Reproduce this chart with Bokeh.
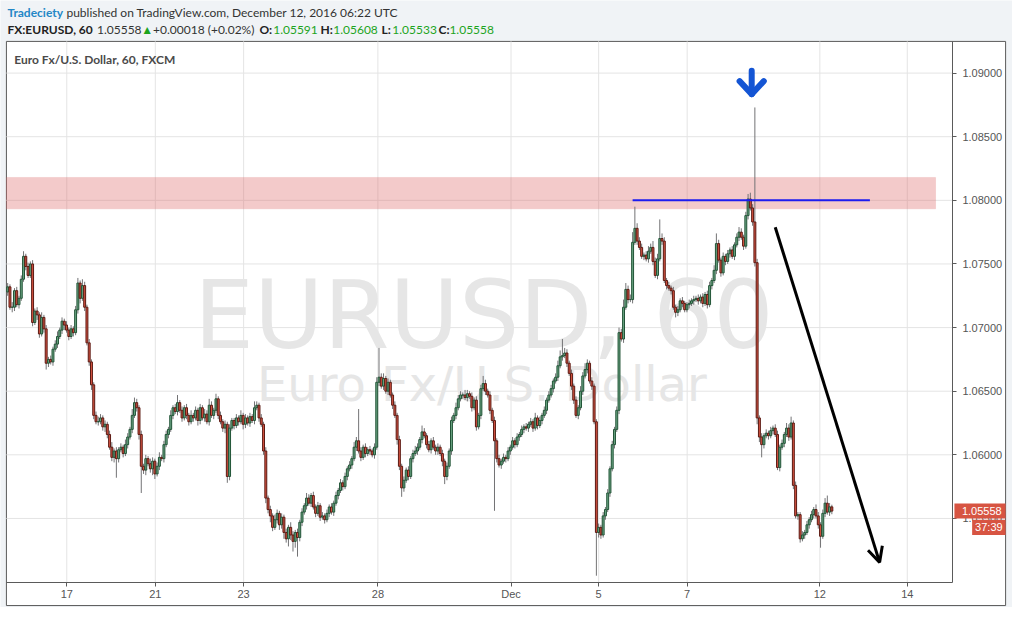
import numpy as np
from bokeh.plotting import figure
from bokeh.models import Range1d, FixedTicker, PrintfTickFormatter, Label, Arrow, OpenHead, LinearAxis
from bokeh.core.properties import value
from bokeh.embed import file_html
from bokeh.resources import INLINE

# ---------------- data (EURUSD, 60 min candles) ----------------
first_open = 1.0728
close = [
    1.0732, 1.0716, 1.0716, 1.0729, 1.0718, 1.0723, 1.0738, 1.0756, 1.0748, 1.0741,
    1.0750, 1.0704, 1.0713, 1.0710, 1.0695, 1.0708, 1.0699, 1.0672, 1.0675, 1.0673,
    1.0683, 1.0687, 1.0693, 1.0698, 1.0705, 1.0702, 1.0698, 1.0693, 1.0699, 1.0696,
    1.0714, 1.0735, 1.0723, 1.0733, 1.0716, 1.0688, 1.0673, 1.0655, 1.0631, 1.0626,
    1.0626, 1.0629, 1.0622, 1.0624, 1.0616, 1.0606, 1.0598, 1.0603, 1.0597, 1.0604,
    1.0606, 1.0601, 1.0608, 1.0614, 1.0620, 1.0631, 1.0641, 1.0637, 1.0616, 1.0591,
    1.0588, 1.0597, 1.0593, 1.0589, 1.0595, 1.0585, 1.0591, 1.0598, 1.0597, 1.0608,
    1.0616, 1.0620, 1.0631, 1.0637, 1.0634, 1.0641, 1.0635, 1.0629, 1.0637, 1.0631,
    1.0626, 1.0631, 1.0629, 1.0635, 1.0627, 1.0637, 1.0629, 1.0632, 1.0626, 1.0639,
    1.0631, 1.0635, 1.0644, 1.0631, 1.0626, 1.0621, 1.0624, 1.0583, 1.0621, 1.0627,
    1.0623, 1.0629, 1.0626, 1.0631, 1.0624, 1.0629, 1.0625, 1.0630, 1.0627, 1.0637,
    1.0639, 1.0629, 1.0624, 1.0603, 1.0566, 1.0557, 1.0552, 1.0543, 1.0549, 1.0554,
    1.0545, 1.0551, 1.0539, 1.0534, 1.0543, 1.0537, 1.0532, 1.0539, 1.0535, 1.0547,
    1.0555, 1.0560, 1.0566, 1.0562, 1.0568, 1.0559, 1.0554, 1.0560, 1.0551, 1.0552,
    1.0549, 1.0554, 1.0559, 1.0555, 1.0562, 1.0568, 1.0572, 1.0578, 1.0575, 1.0583,
    1.0589, 1.0592, 1.0597, 1.0606, 1.0611, 1.0603, 1.0598, 1.0606, 1.0601, 1.0604,
    1.0603, 1.0600, 1.0606, 1.0657, 1.0661, 1.0654, 1.0660, 1.0650, 1.0657, 1.0647,
    1.0639, 1.0631, 1.0612, 1.0591, 1.0574, 1.0580, 1.0588, 1.0583, 1.0597, 1.0601,
    1.0603, 1.0606, 1.0612, 1.0618, 1.0615, 1.0608, 1.0604, 1.0611, 1.0606, 1.0603,
    1.0606, 1.0601, 1.0595, 1.0583, 1.0591, 1.0603, 1.0627, 1.0631, 1.0637, 1.0644,
    1.0647, 1.0647, 1.0645, 1.0648, 1.0646, 1.0637, 1.0643, 1.0622, 1.0631, 1.0652,
    1.0656, 1.0650, 1.0647, 1.0635, 1.0627, 1.0611, 1.0597, 1.0592, 1.0595, 1.0598,
    1.0597, 1.0603, 1.0606, 1.0611, 1.0608, 1.0614, 1.0616, 1.0620, 1.0622, 1.0621,
    1.0624, 1.0626, 1.0621, 1.0629, 1.0623, 1.0627, 1.0631, 1.0635, 1.0643, 1.0647,
    1.0652, 1.0658, 1.0661, 1.0670, 1.0677, 1.0678, 1.0680, 1.0672, 1.0664, 1.0654,
    1.0643, 1.0631, 1.0637, 1.0650, 1.0662, 1.0667, 1.0672, 1.0658, 1.0654, 1.0626,
    1.0539, 1.0543, 1.0537, 1.0552, 1.0557, 1.0570, 1.0589, 1.0608, 1.0620, 1.0635,
    1.0696, 1.0691, 1.0716, 1.0730, 1.0722, 1.0722, 1.0767, 1.0778, 1.0768, 1.0763,
    1.0756, 1.0757, 1.0754, 1.0760, 1.0763, 1.0752, 1.0741, 1.0754, 1.0770, 1.0768,
    1.0737, 1.0733, 1.0731, 1.0729, 1.0716, 1.0712, 1.0714, 1.0721, 1.0719, 1.0714,
    1.0718, 1.0719, 1.0721, 1.0722, 1.0723, 1.0721, 1.0724, 1.0719, 1.0726, 1.0718,
    1.0733, 1.0737, 1.0745, 1.0766, 1.0753, 1.0743, 1.0756, 1.0752, 1.0758, 1.0761,
    1.0756, 1.0765, 1.0771, 1.0775, 1.0771, 1.0764, 1.0788, 1.0801, 1.0794, 1.0783,
    1.0751, 1.0629, 1.0614, 1.0608, 1.0615, 1.0617, 1.0615, 1.0619, 1.0621, 1.0616,
    1.0590, 1.0606, 1.0609, 1.0616, 1.0621, 1.0614, 1.0625, 1.0576, 1.0552, 1.0553,
    1.0534, 1.0537, 1.0539, 1.0545, 1.0549, 1.0553, 1.0557, 1.0552, 1.0545, 1.0536,
    1.0554, 1.0562, 1.0555, 1.05591, 1.05558,
]
# wick lengths beyond the body, in pips
upper_wick_pips = [
    3, 2, 4, 2, 3, 2, 3, 4, 2, 3,
    2, 3, 2, 3, 2, 4, 2, 3, 2, 3,
    2, 3, 4, 2, 3, 2, 3, 2, 3, 2,
    3, 4, 2, 5, 3, 2, 3, 2, 2, 3,
    4, 3, 2, 3, 2, 3, 4, 2, 3, 2,
    3, 2, 4, 3, 2, 5, 4, 3, 2, 3,
    2, 3, 2, 4, 3, 2, 3, 4, 2, 3,
    3, 2, 4, 2, 3, 6, 2, 3, 2, 3,
    2, 4, 2, 3, 2, 3, 2, 4, 3, 5,
    3, 2, 4, 2, 3, 2, 3, 2, 3, 2,
    2, 3, 2, 4, 2, 3, 2, 3, 2, 5,
    3, 2, 3, 2, 3, 2, 3, 2, 4, 3,
    2, 3, 2, 3, 2, 4, 3, 2, 3, 2,
    3, 2, 4, 3, 2, 3, 2, 3, 2, 3,
    2, 3, 2, 3, 2, 3, 2, 3, 2, 3,
    2, 3, 2, 4, 3, 25, 3, 2, 3, 2,
    3, 2, 3, 4, 23, 3, 4, 2, 3, 2,
    2, 3, 2, 3, 2, 3, 2, 3, 2, 3,
    4, 3, 2, 5, 3, 2, 3, 2, 3, 2,
    3, 2, 3, 2, 3, 2, 3, 2, 4, 3,
    3, 2, 4, 3, 2, 3, 2, 3, 2, 3,
    6, 3, 2, 3, 2, 3, 2, 3, 2, 3,
    2, 3, 2, 3, 2, 3, 2, 3, 2, 3,
    2, 3, 2, 4, 2, 3, 2, 3, 2, 3,
    3, 2, 3, 4, 5, 13, 4, 3, 2, 3,
    2, 3, 2, 4, 3, 5, 3, 2, 3, 2,
    2, 3, 2, 3, 2, 3, 2, 3, 2, 3,
    4, 3, 6, 5, 3, 4, 8, 17, 4, 3,
    3, 2, 3, 4, 3, 5, 3, 4, 15, 4,
    3, 2, 3, 2, 3, 2, 3, 2, 3, 2,
    2, 3, 2, 3, 2, 3, 2, 3, 2, 3,
    3, 2, 4, 8, 3, 2, 3, 2, 3, 2,
    3, 2, 3, 4, 3, 2, 3, 4, 5, 3,
    90, 3, 2, 3, 2, 3, 2, 3, 2, 3,
    3, 2, 3, 2, 4, 3, 5, 2, 3, 2,
    2, 3, 2, 3, 2, 3, 2, 4, 3, 2, 3, 4, 6, 3, 1.7,
]
lower_wick_pips = [
    3, 2, 4, 3, 2, 3, 2, 2, 3, 2,
    2, 3, 2, 4, 3, 2, 3, 5, 3, 2,
    3, 2, 3, 2, 3, 4, 2, 3, 2, 3,
    2, 3, 4, 2, 3, 2, 3, 4, 3, 2,
    3, 2, 3, 4, 3, 2, 3, 4, 15, 3,
    2, 3, 2, 3, 2, 3, 2, 3, 4, 21,
    3, 4, 2, 3, 5, 4, 2, 3, 2, 3,
    2, 3, 2, 3, 2, 3, 2, 3, 2, 3,
    3, 2, 3, 2, 4, 3, 2, 3, 2, 3,
    2, 3, 2, 3, 2, 3, 4, 5, 3, 2,
    3, 2, 3, 2, 4, 3, 2, 3, 2, 3,
    2, 3, 2, 3, 4, 3, 5, 3, 2, 3,
    4, 3, 5, 3, 6, 4, 8, 5, 15, 3,
    3, 2, 3, 2, 3, 2, 3, 2, 3, 2,
    3, 2, 3, 2, 3, 2, 3, 2, 3, 2,
    3, 2, 3, 2, 3, 2, 3, 2, 3, 2,
    3, 2, 3, 2, 3, 2, 3, 2, 3, 2,
    3, 2, 4, 3, 7, 3, 2, 3, 2, 3,
    2, 3, 2, 3, 2, 3, 2, 3, 2, 3,
    3, 2, 4, 6, 3, 2, 3, 2, 3, 2,
    2, 3, 2, 3, 2, 3, 2, 3, 2, 3,
    2, 3, 2, 3, 2, 55, 3, 2, 3, 2,
    3, 2, 3, 2, 3, 2, 3, 2, 3, 2,
    3, 2, 3, 2, 3, 2, 3, 2, 3, 2,
    2, 3, 2, 3, 2, 3, 2, 3, 2, 3,
    3, 2, 3, 2, 3, 2, 3, 2, 3, 2,
    34, 4, 3, 2, 3, 2, 3, 2, 3, 2,
    3, 2, 3, 2, 3, 2, 3, 2, 3, 2,
    2, 3, 2, 3, 2, 3, 2, 3, 2, 3,
    2, 3, 2, 3, 2, 4, 3, 2, 3, 2,
    2, 3, 2, 3, 2, 3, 2, 3, 2, 3,
    2, 3, 2, 3, 2, 3, 2, 3, 2, 3,
    2, 3, 2, 3, 2, 3, 2, 3, 2, 3,
    3, 5, 4, 10, 3, 2, 3, 2, 3, 2,
    2, 3, 2, 3, 2, 3, 2, 3, 2, 3,
    3, 2, 3, 2, 3, 2, 3, 2, 3, 9, 2, 3, 2, 3, 2.5,
]
# x axis: date labels at candle positions
date_tick_index = [26.1, 65.2, 104.2, 163.5, 222.3, 261.0, 300.1, 358.7, 397.3]
date_tick_labels = ["17", "21", "23", "28", "Dec", "5", "7", "12", "14"]
price_ticks = [1.055, 1.060, 1.065, 1.070, 1.075, 1.080, 1.085, 1.090]

# drawings on the chart
zone_bottom, zone_top = 1.07933, 1.0818
zone_right = 409.8
level_price = 1.0800
level_left, level_right = 276.0, 380.8
trend_start = (339.0, 1.07789)
trend_end = (385.1, 1.05155)
marker_x, marker_tail, marker_tip = 328.6, 1.09019, 1.08835
countdown_text = "37:39"

PIP = 0.0001

# ---------------- derived OHLC ----------------
closes = np.array(close)
opens = np.concatenate([[first_open], closes[:-1]])
idx = np.arange(len(closes))
highs = np.maximum(opens, closes) + np.array(upper_wick_pips) * PIP
lows = np.minimum(opens, closes) - np.array(lower_wick_pips) * PIP
is_up = closes >= opens

# ---------------- layout helpers (reference-pixel -> data) ----------------
BAR_PX, X_OFF = 2.3, 7.3          # candle pitch / first candle in reference pixels
PX_PER_UNIT = 13060.0             # price scale: pixels per 1.0 of price
Y_REF, Y_REF_PX = 1.09, 74.5


def dx(rx):
    return (rx - X_OFF) / BAR_PX


def dy(ry):
    return Y_REF - (ry - Y_REF_PX) / PX_PER_UNIT


W, H = 1012, 607
PA_L, PA_R, PA_T, PA_B = dx(6), dx(967), dy(42), dy(597)      # price pane
OB_R, OB_B = dx(1021), dy(621)                                 # outer box

p = figure(width=W, height=H, x_range=Range1d(dx(0), dx(1028)), y_range=Range1d(dy(623), dy(0)),
           output_backend="svg", toolbar_location=None, x_axis_location=None, y_axis_location=None,
           min_border_left=0, min_border_right=0, min_border_top=0, min_border_bottom=0,
           background_fill_color="#f0f3f6", border_fill_color="#f0f3f6", outline_line_color=None)
p.grid.grid_line_color = None

# chart box
p.quad(left=[PA_L], right=[OB_R], top=[PA_T], bottom=[OB_B], fill_color="white",
       line_color="#5a5a5a", line_width=1)

# grid
p.segment(x0=[PA_L] * len(price_ticks), x1=[PA_R] * len(price_ticks), y0=price_ticks, y1=price_ticks,
          line_color="#e4e4e4", line_width=1)
p.segment(x0=date_tick_index, x1=date_tick_index, y0=[PA_B] * len(date_tick_index),
          y1=[PA_T] * len(date_tick_index), line_color="#e4e4e4", line_width=1)

# watermark
p.text(x=[dx(491)], y=[dy(323.3)], text=["EURUSD, 60"], text_font=value("DejaVu Sans"),
       text_font_size="95px", text_color="#e6e6e6", text_align="center", text_baseline="alphabetic")
p.text(x=[dx(489)], y=[dy(394)], text=["Euro Fx/U.S. Dollar"], text_font=value("DejaVu Sans"),
       text_font_size="48px", text_color="#e6e6e6", text_align="center", text_baseline="alphabetic")

# resistance zone
p.quad(left=[PA_L], right=[zone_right], bottom=[zone_bottom], top=[zone_top],
       fill_color="#dd6666", fill_alpha=0.35, line_color="#dd6666", line_alpha=0.15)

# candles
up_fill, down_fill = "#6ba583", "#d75442"
up_border, down_border = "#225437", "#5b1a13"
p.segment(x0=idx, y0=lows, x1=idx, y1=highs, line_color="#737375", line_width=1)
p.vbar(x=idx, width=0.85, top=np.maximum(opens, closes), bottom=np.minimum(opens, closes),
       fill_color=[up_fill if u else down_fill for u in is_up],
       line_color=[up_border if u else down_border for u in is_up], line_width=1)

# horizontal level
p.segment(x0=[level_left], y0=[level_price], x1=[level_right], y1=[level_price],
          line_color="#1c1cf0", line_width=2)

# blue marker arrow
arm_dx = 12.3 / BAR_PX
arm_dy = 13.3 / PX_PER_UNIT
p.segment(x0=[marker_x, marker_x - arm_dx, marker_x + arm_dx],
          y0=[marker_tail, marker_tip + arm_dy, marker_tip + arm_dy],
          x1=[marker_x, marker_x, marker_x], y1=[marker_tip, marker_tip, marker_tip],
          line_color="#1455d4", line_width=6, line_cap="round")

# black trend arrow
p.add_layout(Arrow(end=OpenHead(size=15, line_width=3, line_color="black"),
                   x_start=trend_start[0], y_start=trend_start[1],
                   x_end=trend_end[0], y_end=trend_end[1],
                   line_width=3, line_color="black"))

# axes (fixed inside the canvas so the whole page is one frame)
yax = LinearAxis(fixed_location=PA_R, bounds=(PA_B, PA_T), ticker=FixedTicker(ticks=price_ticks),
                 formatter=PrintfTickFormatter(format="%.5f"))
xax = LinearAxis(fixed_location=PA_B, bounds=(PA_L, PA_R), ticker=FixedTicker(ticks=date_tick_index),
                 major_label_overrides={t: l for t, l in zip(date_tick_index, date_tick_labels)})
for ax in (xax, yax):
    ax.axis_line_color = "#5a5a5a"
    ax.major_tick_line_color = "#5a5a5a"
    ax.major_tick_out = 4
    ax.major_tick_in = 0
    ax.minor_tick_line_color = None
    ax.major_label_text_font = "Liberation Sans"
    ax.major_label_text_font_size = "11px"
    ax.major_label_text_color = "#555555"
yax.major_label_standoff = 6
xax.major_label_standoff = 2
p.add_layout(yax, "right")
p.add_layout(xax, "below")

# last price / countdown tags (drawn above the axis)
last = closes[-1]
half = 7.75 / PX_PER_UNIT
p.quad(left=[dx(969)], right=[dx(1021)], top=[last + half], bottom=[last - half],
       fill_color="#d75442", line_color=None, level="overlay")
p.text(x=[dx(1017)], y=[last], text=["%.5f" % last], text_font=value("Liberation Sans"),
       text_font_size="11px", text_color="white", text_align="right", text_baseline="middle",
       level="overlay")
cd_top, cd_bot = last - 9.0 / PX_PER_UNIT, last - 24.5 / PX_PER_UNIT
p.quad(left=[dx(987)], right=[dx(1021)], top=[cd_top], bottom=[cd_bot],
       fill_color="#d75442", line_color=None, level="overlay")
p.text(x=[dx(1004)], y=[(cd_top + cd_bot) / 2], text=[countdown_text], text_font=value("Liberation Sans"),
       text_font_size="11px", text_color="white", text_align="center", text_baseline="middle",
       level="overlay")

# pane title
p.add_layout(Label(x=dx(14), y=dy(61), text="Euro Fx/U.S. Dollar, 60, FXCM", text_font="Lato",
                   text_font_size="12px", text_font_style="bold", text_color="#4a4a4a",
                   text_baseline="middle"))

# header
HDR = "Lato"
p.add_layout(Label(x=dx(7), y=dy(12), text="Tradeciety", text_font=HDR, text_font_size="12px",
                   text_font_style="bold", text_color="#2387c6", text_baseline="middle"))
p.add_layout(Label(x=dx(67), y=dy(12), text="published on TradingView.com, December 12, 2016 06:22 UTC",
                   text_font=HDR, text_font_size="12px", text_color="#333333", text_baseline="middle"))
green = "#1da41d"
line2 = [
    (7, "FX:EURUSD, 60", "bold", "#222222"),
    (98, "1.05558", "normal", "#333333"),
    (143, "\u25b2", "normal", green),
    (155, "+0.00018 (+0.02%)", "normal", "#333333"),
    (263, "O:", "bold", "#222222"),
    (277, "1.05591", "normal", green),
    (325, "H:", "bold", "#222222"),
    (338, "1.05608", "normal", green),
    (387, "L:", "bold", "#222222"),
    (398, "1.05533", "normal", green),
    (445, "C:", "bold", "#222222"),
    (456, "1.05558", "normal", green),
]
for px, txt, style, col in line2:
    p.add_layout(Label(x=dx(px), y=dy(30), text=txt, text_font=HDR, text_font_size="12px",
                       text_font_style=style, text_color=col, text_baseline="middle"))

open("out.html", "w").write(file_html(p, INLINE))
